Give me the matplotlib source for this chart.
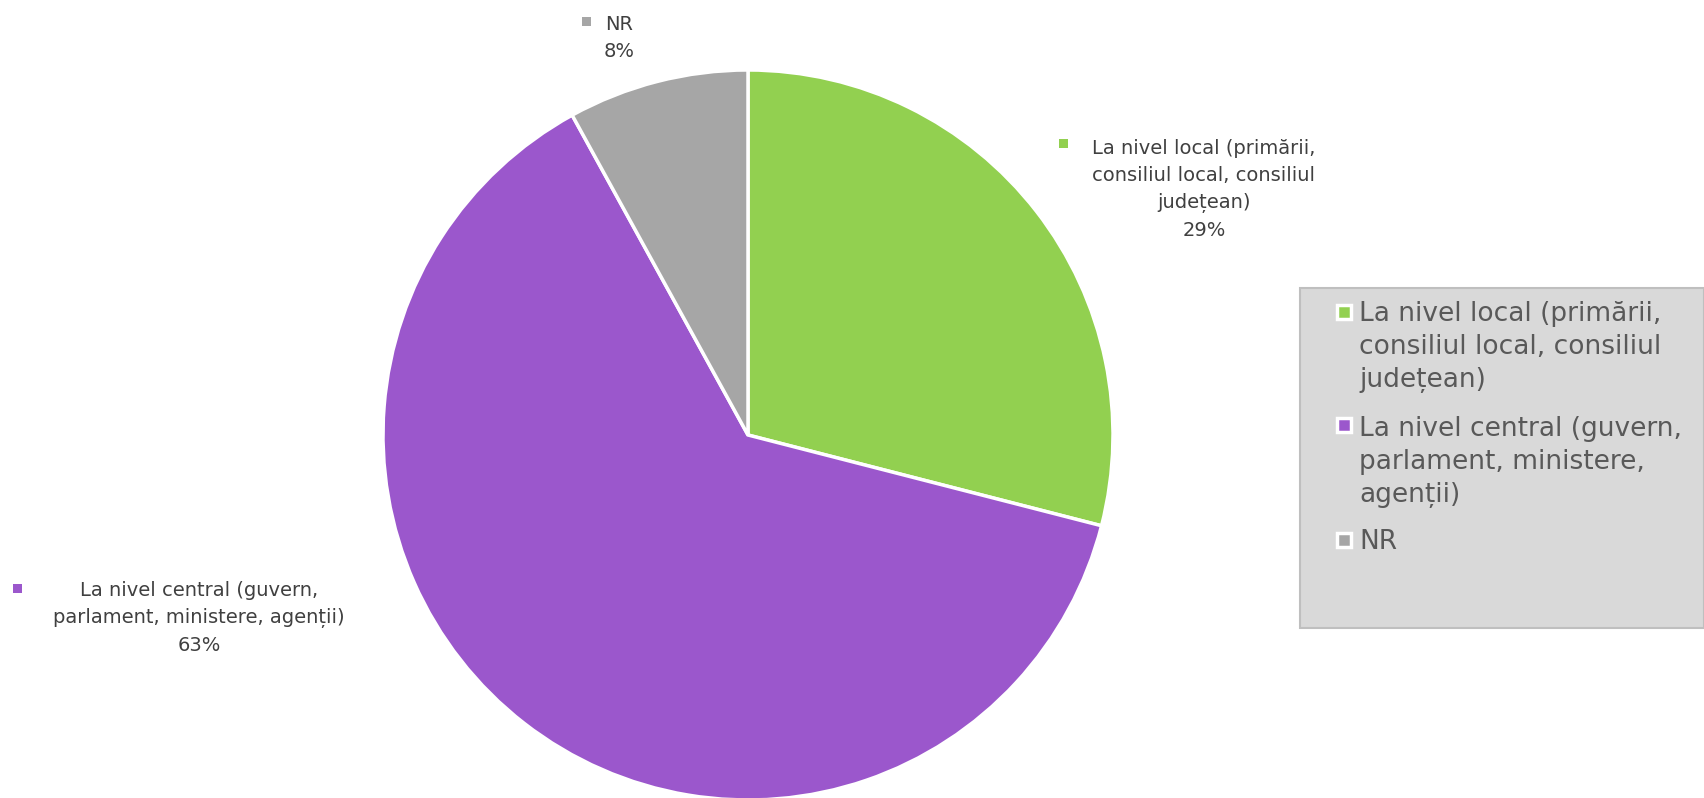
import matplotlib.pyplot as plt
from matplotlib.patches import Rectangle

labels = ['La nivel local (primării, consiliul local, consiliul județean)',
          'La nivel central (guvern, parlament, ministere, agenții)',
          'NR']
values = [29, 63, 8]
colors = ['#92D050', '#9B57CC', '#A6A6A6']

# wrapped texts as they appear on the chart
label_lines = ['La nivel local (primării,\nconsiliul local, consiliul\njudețean)',
               'La nivel central (guvern,\nparlament, ministere, agenții)',
               'NR']
legend_lines = ['La nivel local (primării,\nconsiliul local, consiliul\njudețean)',
                'La nivel central (guvern,\nparlament, ministere,\nagenții)',
                'NR']

W, H = 1704, 798
fig = plt.figure(figsize=(W / 100, H / 100), dpi=100)
plt.rcParams['font.family'] = ['DejaVu Sans']
txt_col = '#404040'


def fx(x):
    return x / W


def fy(y):
    return 1 - y / H


cx, cy, r = 748, 435, 365
ax = fig.add_axes([(cx - r) / W, (H - cy - r) / H, 2 * r / W, 2 * r / H])
ax.pie(values, colors=colors, startangle=90, counterclock=False, radius=1,
       wedgeprops=dict(edgecolor='white', linewidth=2.5))
ax.set_xlim(-1, 1)
ax.set_ylim(-1, 1)
ax.axis('off')

# data labels: (centre x, baseline of last line) in px
lab_pos = [(1204, 236), (199, 651), (619, 57)]
mark_pos = [(1063, 143), (17, 588), (586, 21)]
for i in range(len(values)):
    fig.text(fx(lab_pos[i][0]), fy(lab_pos[i][1]), label_lines[i] + '\n' + str(values[i]) + '%',
             ha='center', va='baseline', fontsize=14, color=txt_col, linespacing=1.53)
    mx, my = mark_pos[i]
    fig.patches.append(Rectangle((fx(mx - 4.5), fy(my + 4.5)), 9 / W, 9 / H,
                                 transform=fig.transFigure, facecolor=colors[i],
                                 edgecolor='none'))

# legend box
fig.patches.append(Rectangle((fx(1300), fy(628)), (W - 1300) / W, (628 - 288) / H,
                             transform=fig.transFigure, facecolor='#D9D9D9',
                             edgecolor='#BFBFBF', linewidth=1.5, zorder=0))
leg_last = [387, 502, 549]
leg_mark = [312, 425, 540]
for i in range(len(legend_lines)):
    hy = leg_mark[i]
    fig.patches.append(Rectangle((fx(1344 - 7), fy(hy + 7)), 14 / W, 14 / H,
                                 transform=fig.transFigure, facecolor=colors[i],
                                 edgecolor='white', linewidth=2.5))
    fig.text(fx(1359), fy(leg_last[i]), legend_lines[i], ha='left', va='baseline',
             fontsize=19, color='#595959', linespacing=1.36)

fig.savefig('out.png', dpi=100, facecolor='white')
